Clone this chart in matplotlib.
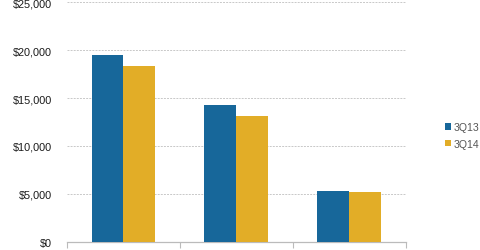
import matplotlib.pyplot as plt
import numpy as np

plt.rcParams['font.family'] = ['Liberation Sans', 'DejaVu Sans']

# values
categories = ["A", "B", "C"]
q313 = [19500, 14300, 5280]
q314 = [18300, 13150, 5180]
yticks = [0, 5000, 10000, 15000, 20000, 25000]
ytick_labels = ["$0", "$5,000", "$10,000", "$15,000", "$20,000", "$25,000"]

fig = plt.figure(figsize=(4.8, 2.51), dpi=100)
ax = fig.add_axes([0.1396, 0.033, 0.706, 0.954])

x = np.arange(len(categories))
w = 0.283
ax.bar(x - w / 2, q313, w, color="#17679a", label="3Q13", zorder=3)
ax.bar(x + w / 2, q314, w, color="#e2ad27", label="3Q14", zorder=3)

ax.set_xlim(-0.5, 2.5)
ax.set_ylim(0, 25000)
ax.set_yticks(yticks)
ax.set_yticklabels(ytick_labels, fontsize=7.8, color="#1a1a1a")
ax.tick_params(axis="y", length=0, pad=11)
ax.yaxis.grid(True, color="#c8c8c8", linestyle=(0, (2, 1.2)), linewidth=0.7, zorder=0)

ax.set_xticks(x)
ax.set_xticklabels([])
ax.tick_params(axis="x", which="major", length=0)
ax.set_xticks([-0.5, 0.5, 1.5, 2.5], minor=True)
ax.tick_params(axis="x", which="minor", length=4, color="#bbbbbb", width=0.8)

for s in ["top", "right", "left"]:
    ax.spines[s].set_visible(False)
ax.spines["bottom"].set_color("#bbbbbb")
ax.spines["bottom"].set_linewidth(0.9)

fig.legend(loc="upper left", bbox_to_anchor=(0.917, 0.53), frameon=False,
           fontsize=7.6, handlelength=0.5, handleheight=0.5, handletextpad=0.3,
           labelspacing=0.6, borderpad=0, labelcolor="#555555")

fig.savefig("out.png", dpi=100)
